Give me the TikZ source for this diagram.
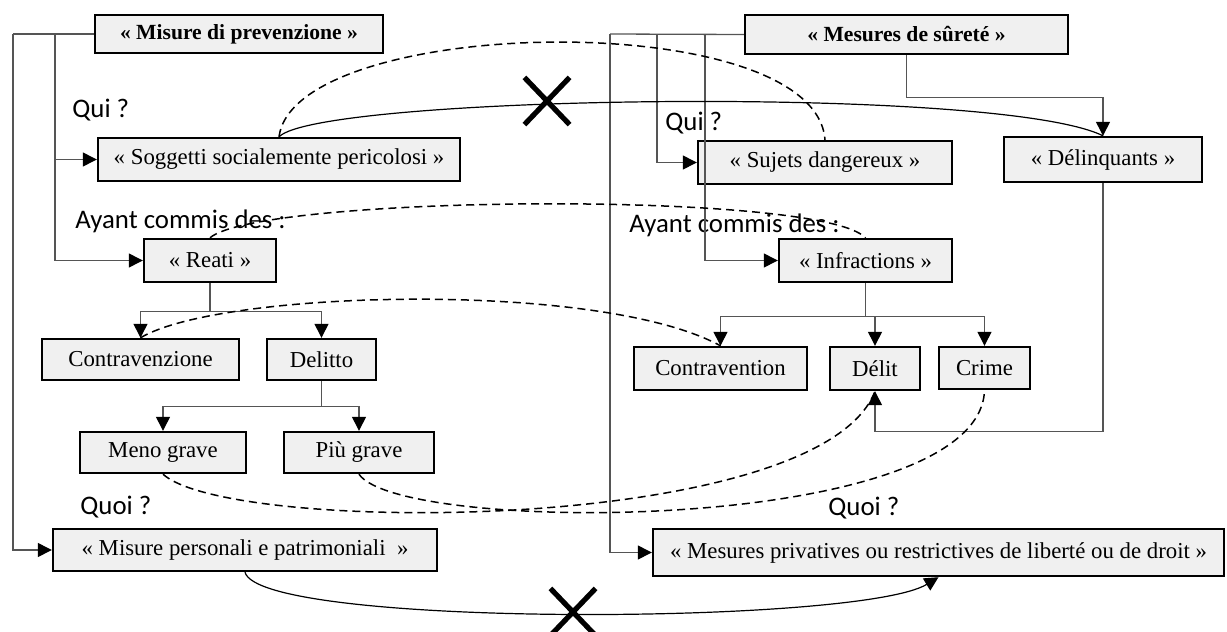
\documentclass[tikz,border=0pt]{standalone}
\usepackage{fontspec}
\setmainfont{Liberation Serif}
\newfontfamily\labelfont{Carlito}
\usetikzlibrary{arrows.meta,shapes.misc}

\definecolor{boxgray}{RGB}{240,240,240}
\definecolor{linkgray}{RGB}{85,85,85}

\begin{document}
\begin{tikzpicture}[x=0.5pt, y=-0.5pt,
  box/.style={draw, line width=1.2pt, fill=boxgray, inner sep=2pt,
    font=\fontsize{11.4}{13}\selectfont},
  title/.style={box, font=\fontsize{10.8}{13}\selectfont\bfseries},
  ask/.style={anchor=west, inner sep=0pt, font=\labelfont\fontsize{13.4}{15}\selectfont},
  bus/.style={draw=linkgray, line width=0.65pt},
  link/.style={bus, -{Triangle[length=7pt,width=7pt,color=black]}},
  pair/.style={draw=black, line width=0.75pt, dash pattern=on 4pt off 2.5pt},
  nope/.style={cross out, draw, line width=2.6pt, inner sep=0pt,
    minimum width=20pt, minimum height=21pt}]

  \useasboundingbox (0,0) rectangle (1227,632);

  % italian side
  \node[title, minimum width=144pt, minimum height=19pt] (prev) at (239,34) {« Misure di prevenzione »};
  \node[box, minimum width=181pt, minimum height=21.5pt] (sogg) at (279,159.5) {« Soggetti socialemente pericolosi »};
  \node[box, minimum width=66pt, minimum height=21.5pt] (reati) at (210,260.5) {« Reati »};
  \node[box, minimum width=98.5pt, minimum height=20.5pt] (contraIt) at (140.5,359.5) {Contravenzione};
  \node[box, minimum width=54.5pt, minimum height=20.5pt] (delitto) at (321.5,359.5) {Delitto};
  \node[box, minimum width=83pt, minimum height=20.5pt] (meno) at (163,452.5) {Meno grave};
  \node[box, minimum width=75pt, minimum height=20.5pt] (piu) at (359,452.5) {Più grave};
  \node[box, minimum width=192pt, minimum height=21pt] (persIt) at (245,550) {« Misure personali e patrimoniali ~»};

  % french side
  \node[title, minimum width=161.5pt, minimum height=19.5pt] (surete) at (906.5,34.5) {« Mesures de sûreté »};
  \node[box, minimum width=127pt, minimum height=21.5pt] (sujets) at (825,162.5) {« Sujets dangereux »};
  \node[box, minimum width=99pt, minimum height=22.5pt] (delinq) at (1103,159.5) {« Délinquants »};
  \node[box, minimum width=86.5pt, minimum height=21.5pt] (infr) at (865.5,260.5) {« Infractions »};
  \node[box, minimum width=86.5pt, minimum height=21.5pt] (contraFr) at (720.5,368.5) {Contravention};
  \node[box, minimum width=45pt, minimum height=21.5pt] (delit) at (875,368.5) {Délit};
  \node[box, minimum width=45.5pt, minimum height=21pt] (crime) at (984.5,368) {Crime};
  \node[box, minimum width=285.5pt, minimum height=23.5pt] (privFr) at (938.5,552.5) {« Mesures privatives ou restrictives de liberté ou de droit »};

  \node[ask] (quiIt) at (72,110) {Qui ?};
  \node[ask] (quiFr) at (665,123) {Qui ?};
  \node[ask] (ayantIt) at (75,221) {Ayant commis des :};
  \node[ask] (ayantFr) at (629,225) {Ayant commis des :};
  \node[ask] (quoiIt) at (80,507) {Quoi ?};
  \node[ask] (quoiFr) at (828,508) {Quoi ?};

  \coordinate (outIt) at (13,34);
  \coordinate (busIt) at (55,34);
  \coordinate (outFr) at (610,34);
  \coordinate (busFrA) at (657,34);
  \coordinate (busFrB) at (705,34);

  \draw[bus] (prev.west) -- (outIt);
  \draw[link] (outIt) |- (persIt.west);
  \draw[link] (busIt) |- (sogg.west);
  \draw[link] (busIt) |- (reati.west);
  \draw[link] (reati.south) -- ++(0,28) -| (contraIt.north);
  \draw[link] (reati.south) -- ++(0,28) -| (delitto.north);
  \draw[link] (delitto.south) -- ++(0,25) -| (meno.north);
  \draw[link] (delitto.south) -- ++(0,25) -| (piu.north);

  \draw[bus] (surete.west) -- (outFr);
  \draw[link] (outFr) |- (privFr.west);
  \draw[link] (busFrA) |- (sujets.west);
  \draw[link] (busFrB) |- (infr.west);
  \draw[link] (surete.south) -- ++(0,42) -| (delinq.north);
  \draw[link] (infr.south) -- ++(0,33) -| (contraFr.north);
  \draw[link] (infr.south) -- ++(0,33) -| (delit.north);
  \draw[link] (infr.south) -- ++(0,33) -| (crime.north);
  \draw[link] (delinq.south) -- ++(0,248) -| (delit.south);

  % correspondences
  \draw[pair] (sogg.north) .. controls (295,15) and (815,5) .. (sujets.north);
  \draw[pair] (reati.north) .. controls (260,195) and (820,190) .. (infr.north);
  \draw[pair] (contraIt.north) .. controls (220,290) and (600,280) .. (contraFr.north);
  \draw[pair] (meno.south) .. controls (230,535) and (820,535) .. (delit.south);
  \draw[pair] (piu.south) .. controls (400,535) and (980,535) .. (crime.south);

  \draw[line width=0.6pt] (sogg.north) .. controls (320,95) and (1000,85) .. (delinq.north);
  \draw[line width=0.6pt, -{Triangle[length=7pt,width=7pt]}] (persIt.south) .. controls (260,628) and (860,625) .. (privFr.south);

  \node[nope] (noTop) at (547,101) {};
  \node[nope] (noBot) at (573,612) {};

\end{tikzpicture}
\end{document}
